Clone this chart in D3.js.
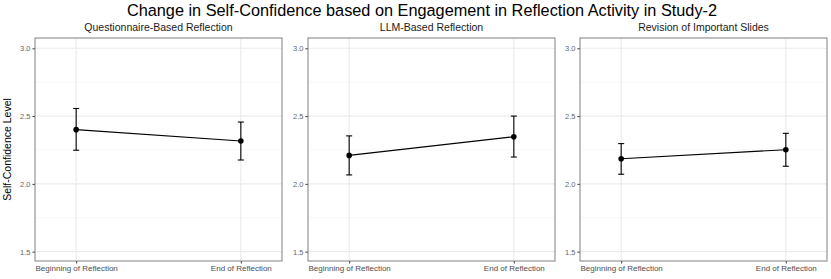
<!DOCTYPE html>
<html>
<head>
<meta charset="utf-8">
<script src="https://cdn.jsdelivr.net/npm/d3@7"></script>
<style>
  body { margin: 0; background: #fff; }
  svg { font-family: "Liberation Sans", Arial, sans-serif; }
</style>
</head>
<body>
<script>
var panels = ["Questionnaire-Based Reflection", "LLM-Based Reflection", "Revision of Important Slides"];
var phases = ["Beginning of Reflection", "End of Reflection"];
// mean, lower, upper per panel, per phase
var means = [[2.40, 2.316], [2.21, 2.348], [2.185, 2.252]];
var lowers = [[2.248, 2.176], [2.066, 2.198], [2.071, 2.130]];
var uppers = [[2.556, 2.456], [2.354, 2.500], [2.297, 2.373]];
var yTicks = [1.5, 2.0, 2.5, 3.0];
var yMinor = [1.75, 2.25, 2.75];

var W = 831, H = 279;
var panelLeft = [35, 308, 580],
    panelWidth = 247,
    plotTop = 38, plotBottom = 261;

var svg = d3.select('body')
            .append('svg')
            .attr('width', W)
            .attr('height', H);

var y = d3.scaleLinear()
          .domain([1.431, 3.076])
          .range([plotBottom, plotTop]);

svg.append('text')
   .attr('x', 422).attr('y', 16)
   .attr('text-anchor', 'middle')
   .attr('font-size', '16.3px')
   .attr('fill', '#000')
   .text('Change in Self-Confidence based on Engagement in Reflection Activity in Study-2');

svg.append('text')
   .attr('transform', 'translate(11,' + ((plotTop + plotBottom) / 2) + ') rotate(-90)')
   .attr('text-anchor', 'middle')
   .attr('font-size', '10.5px')
   .text('Self-Confidence Level');

panels.forEach(function(name, p) {
  var x = d3.scalePoint()
            .domain(phases)
            .range([panelLeft[p], panelLeft[p] + panelWidth])
            .padding(0.25);

  var g = svg.append('g');

  // strip title
  g.append('text')
   .attr('x', panelLeft[p] + panelWidth / 2).attr('y', 31)
   .attr('text-anchor', 'middle')
   .attr('font-size', '10.5px')
   .attr('fill', '#1a1a1a')
   .text(name);

  // minor grid
  g.selectAll('.minor').data(yMinor).enter().append('line')
   .attr('x1', panelLeft[p]).attr('x2', panelLeft[p] + panelWidth)
   .attr('y1', function(d) { return y(d); }).attr('y2', function(d) { return y(d); })
   .attr('stroke', '#f2f2f2').attr('stroke-width', 0.6);

  // major grid
  g.selectAll('.major').data(yTicks).enter().append('line')
   .attr('x1', panelLeft[p]).attr('x2', panelLeft[p] + panelWidth)
   .attr('y1', function(d) { return y(d); }).attr('y2', function(d) { return y(d); })
   .attr('stroke', '#ebebeb').attr('stroke-width', 1.1);

  g.selectAll('.vgrid').data(phases).enter().append('line')
   .attr('x1', function(d) { return x(d); }).attr('x2', function(d) { return x(d); })
   .attr('y1', plotTop).attr('y2', plotBottom)
   .attr('stroke', '#ebebeb').attr('stroke-width', 1.1);

  // y axis
  var yAxis = d3.axisLeft(y).tickValues(yTicks).tickFormat(d3.format('.1f')).tickSize(2.5).tickPadding(2);
  var ya = g.append('g')
   .attr('transform', 'translate(' + panelLeft[p] + ',0)')
   .call(yAxis);
  ya.select('.domain').remove();
  ya.selectAll('line').attr('stroke', '#333');
  ya.selectAll('text').attr('font-size', '7.5px').attr('fill', '#666').attr('font-family', '"Liberation Sans", Arial, sans-serif');

  // x axis
  var xAxis = d3.axisBottom(x).tickSize(2.5).tickPadding(1.5);
  var xa = g.append('g')
   .attr('transform', 'translate(0,' + plotBottom + ')')
   .call(xAxis);
  xa.select('.domain').remove();
  xa.selectAll('line').attr('stroke', '#333');
  xa.selectAll('text').attr('font-size', '8px').attr('fill', '#4d4d4d').attr('font-family', '"Liberation Sans", Arial, sans-serif');

  // border
  g.append('rect')
   .attr('x', panelLeft[p]).attr('y', plotTop)
   .attr('width', panelWidth).attr('height', plotBottom - plotTop)
   .attr('fill', 'none').attr('stroke', '#808080').attr('stroke-width', 1);

  var rows = phases.map(function(ph, i) {
    return {phase: ph, mean: means[p][i], lo: lowers[p][i], hi: uppers[p][i]};
  });

  // line
  g.append('path')
   .datum(rows)
   .attr('d', d3.line().x(function(d) { return x(d.phase); }).y(function(d) { return y(d.mean); }))
   .attr('fill', 'none').attr('stroke', '#000').attr('stroke-width', 1.1);

  // error bars
  var eb = g.selectAll('.eb').data(rows).enter().append('g');
  eb.append('line')
    .attr('x1', function(d) { return x(d.phase); }).attr('x2', function(d) { return x(d.phase); })
    .attr('y1', function(d) { return y(d.lo); }).attr('y2', function(d) { return y(d.hi); })
    .attr('stroke', '#000').attr('stroke-width', 1.1);
  eb.append('line')
    .attr('x1', function(d) { return x(d.phase) - 3; }).attr('x2', function(d) { return x(d.phase) + 3; })
    .attr('y1', function(d) { return y(d.lo); }).attr('y2', function(d) { return y(d.lo); })
    .attr('stroke', '#000').attr('stroke-width', 1.1);
  eb.append('line')
    .attr('x1', function(d) { return x(d.phase) - 3; }).attr('x2', function(d) { return x(d.phase) + 3; })
    .attr('y1', function(d) { return y(d.hi); }).attr('y2', function(d) { return y(d.hi); })
    .attr('stroke', '#000').attr('stroke-width', 1.1);

  g.selectAll('.pt').data(rows).enter().append('circle')
   .attr('cx', function(d) { return x(d.phase); })
   .attr('cy', function(d) { return y(d.mean); })
   .attr('r', 2.8)
   .attr('fill', '#000');
});
</script>
</body>
</html>
